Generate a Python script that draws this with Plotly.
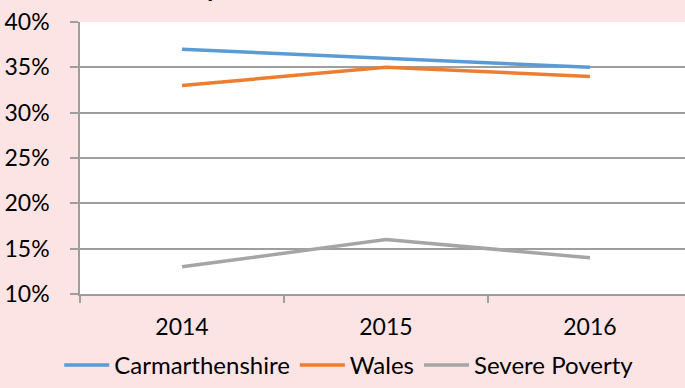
import plotly.graph_objects as go

# Poverty rates by year
years = ["2014", "2015", "2016"]
carmarthenshire = [37, 36, 35]
wales = [33, 35, 34]
severe_poverty = [13, 16, 14]
y_ticks = [10, 15, 20, 25, 30, 35, 40]

series = [
    ("Carmarthenshire", carmarthenshire, "#5B9BD5"),
    ("Wales", wales, "#ED7D31"),
    ("Severe Poverty", severe_poverty, "#A5A5A5"),
]

FONT = "Lato, 'Open Sans', Arial, sans-serif"
GRID = "#9E9E9E"

fig = go.Figure()
for name, values, color in series:
    fig.add_trace(go.Scatter(
        x=years, y=values, name=name, mode="lines",
        line=dict(color=color, width=3.5),
    ))

fig.update_layout(
    width=685, height=388,
    margin=dict(l=80, r=0, t=22, b=94),
    paper_bgcolor="#FDE4E4",
    plot_bgcolor="#FFFFFF",
    font=dict(family=FONT, size=23, color="#000000"),
    showlegend=True,
    legend=dict(
        orientation="h", x=0.445, xanchor="center", y=-0.265, yanchor="middle",
        font=dict(size=24), bgcolor="rgba(0,0,0,0)", itemwidth=45,
        tracegroupgap=0,
    ),
    xaxis=dict(
        type="category", range=[-0.5, 2.466],
        showgrid=False, showline=True, linecolor=GRID, linewidth=1.5,
        ticks="outside", tickson="boundaries", ticklen=7, tickcolor=GRID,
        tickwidth=1.5, ticklabelstandoff=12,
    ),
    yaxis=dict(
        range=[10, 40], tickvals=y_ticks,
        ticktext=[f"{v}%" for v in y_ticks],
        showgrid=True, gridcolor=GRID, gridwidth=1.5,
        showline=True, linecolor=GRID, linewidth=1.5,
        ticks="outside", ticklen=8, tickcolor=GRID, tickwidth=1.5,
        ticklabelstandoff=16, zeroline=False,
    ),
    # Chart heading sits mostly above the visible page
    annotations=[dict(
        text="<b>Child Poverty</b>", xref="paper", yref="paper",
        x=(222 - 80) / 605, xanchor="right", y=1.062, yanchor="bottom",
        showarrow=False, font=dict(size=26, family=FONT, color="#000000"),
    )],
)

fig.write_html("out.html")
